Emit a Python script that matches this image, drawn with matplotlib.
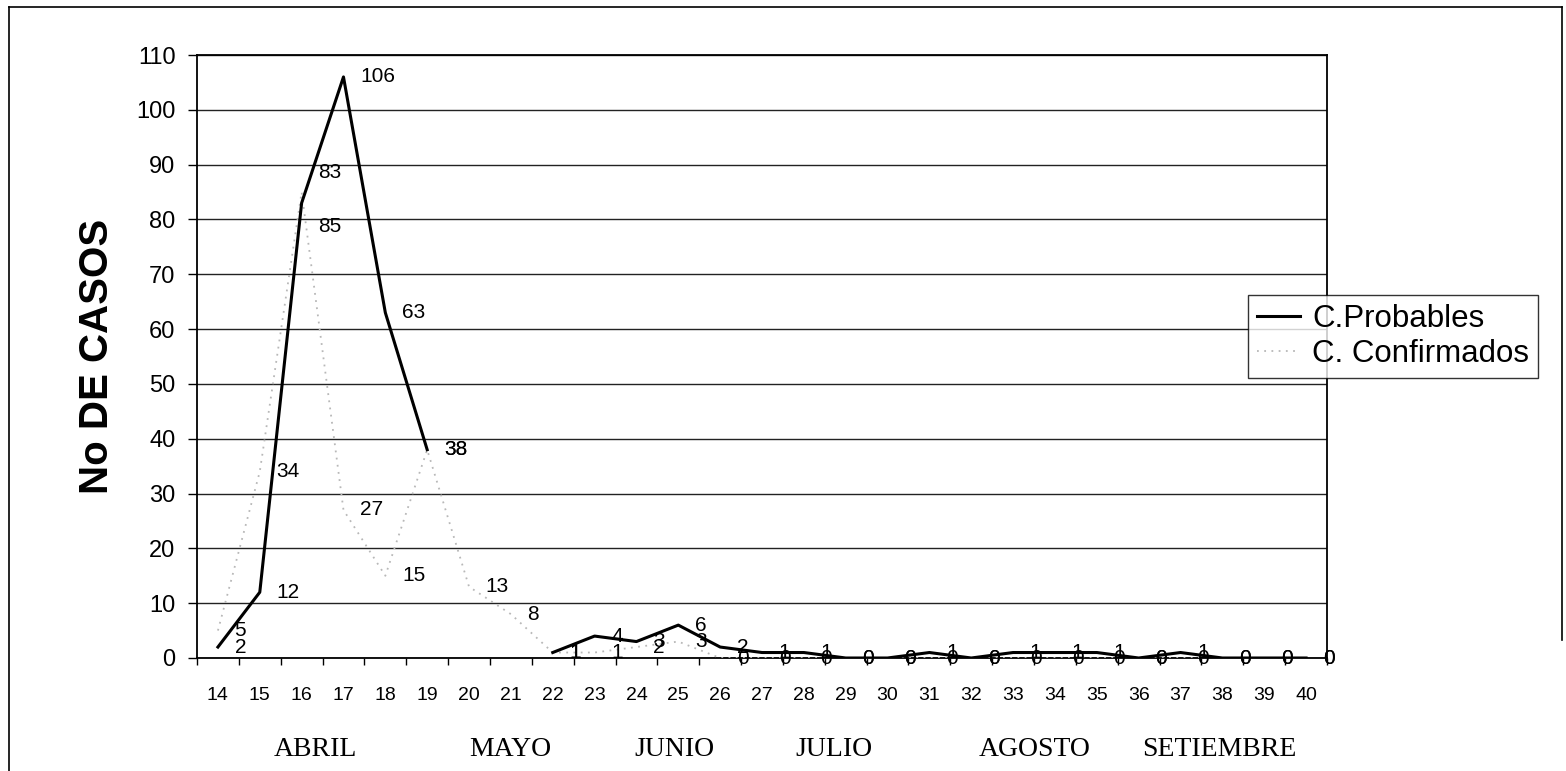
import numpy as np
import matplotlib
matplotlib.use("Agg")
import matplotlib.pyplot as plt
from matplotlib.lines import Line2D
from matplotlib.transforms import blended_transform_factory

# semanas epidemiologicas 14..40
semanas = list(range(14, 41))
probables = [2, 12, 83, 106, 63, 38, np.nan, np.nan, 1, 4, 3, 6, 2, 1, 1, 0,
             0, 1, 0, 1, 1, 1, 0, 1, 0, 0, 0]
confirmados = [5, 34, 85, 27, 15, 38, 13, 8, 1, 1, 2, 3, 0, 0, 0, 0,
               0, 0, 0, 0, 0, 0, 0, 0, 0, 0, 0]

meses = ["ABRIL", "MAYO", "JUNIO", "JULIO", "AGOSTO", "SETIEMBRE"]
meses_x = [16.34, 20.98, 24.90, 28.72, 33.52, 37.92]

# nudges for the two overlapping labels at week 16 (points)
nudge_prob = {16: (12, 22)}
nudge_conf = {16: (12, -25)}

plt.rcParams['font.family'] = ['Liberation Sans', 'DejaVu Sans']

fig = plt.figure(figsize=(15.66, 7.71), dpi=100)
ax = fig.add_axes([197 / 1566, 1 - 658 / 771, 1130 / 1566, 603 / 771])

x = np.array(semanas)
p = np.array(probables, dtype=float)
c = np.array(confirmados, dtype=float)

ax.plot(x, c, color='#b8b8b8', lw=1.3, linestyle=(0, (1, 3)), label='C. Confirmados', zorder=3)
ax.plot(x, p, color='black', lw=2.2, label='C.Probables', zorder=4)

for xi, v in zip(x, p):
    if np.isnan(v):
        continue
    dx, dy = nudge_prob.get(xi, (12, 0))
    ax.annotate(f"{int(v)}", (xi, v), xytext=(dx, dy), textcoords='offset points',
                ha='left', va='center', fontsize=15, zorder=6)
for xi, v in zip(x, c):
    dx, dy = nudge_conf.get(xi, (12, 0))
    ax.annotate(f"{int(v)}", (xi, v), xytext=(dx, dy), textcoords='offset points',
                ha='left', va='center', fontsize=15, zorder=6)

ax.set_xlim(13.5, 40.5)
ax.set_ylim(0, 110)
ax.set_yticks(range(0, 111, 10))
ax.set_xticks(semanas)
ax.set_xticklabels([str(s) for s in semanas])
ax.set_xticks(np.arange(13.5, 41, 1), minor=True)
ax.tick_params(axis='x', which='major', length=0, pad=21, labelsize=14)
ax.tick_params(axis='x', which='minor', length=5, direction='out', width=1)
ax.tick_params(axis='y', length=6.5, direction='out', width=1, pad=9, labelsize=17)
ax.yaxis.grid(True, color='#222222', lw=1)
ax.set_axisbelow(True)
for s in ax.spines.values():
    s.set_linewidth(1.3)
    s.set_color('black')

fig.text(97 / 1566, 1 - 356 / 771, "No DE CASOS", rotation=90, ha='center', va='center',
         fontsize=29, fontweight='bold')

tr = blended_transform_factory(ax.transData, fig.transFigure)
for m, mx in zip(meses, meses_x):
    ax.text(mx, 1 - 750 / 771, m, transform=tr, ha='center', va='center',
            fontsize=20, family='Liberation Serif')

handles, labels = ax.get_legend_handles_labels()
leg = fig.legend(handles[::-1], labels[::-1], loc='upper left',
                 bbox_to_anchor=(1248 / 1566, 1 - 295 / 771), bbox_transform=fig.transFigure,
                 fontsize=22.5, frameon=True, fancybox=False, borderaxespad=0,
                 borderpad=0.3, labelspacing=0.15, handlelength=1.35, handletextpad=0.4)
leg.get_frame().set_edgecolor('black')
leg.get_frame().set_linewidth(1)
leg.set_zorder(10)

# outer frame of the scanned chart
fig.add_artist(Line2D([9 / 1566, 9 / 1566], [0, 1 - 7 / 771], color='black', lw=1.2))
fig.add_artist(Line2D([9 / 1566, 1562 / 1566], [1 - 7 / 771, 1 - 7 / 771], color='black', lw=1.2))
fig.add_artist(Line2D([1562 / 1566, 1562 / 1566], [1 - 7 / 771, 1 - 640 / 771], color='black', lw=1.2))

fig.savefig("out.png", dpi=100)
